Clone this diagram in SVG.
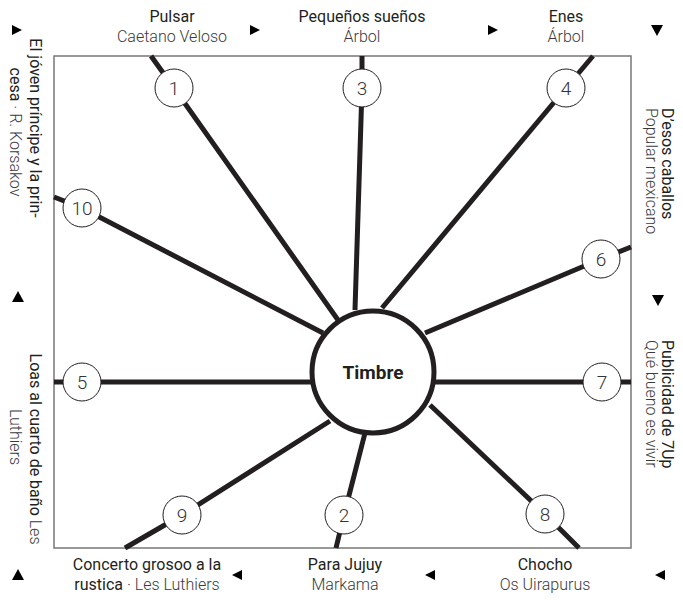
<svg xmlns="http://www.w3.org/2000/svg" width="683" height="605" viewBox="0 0 683 605">
<style>
.t{font-family:Roboto,"Liberation Sans",sans-serif;font-size:16px;fill:#231f20}
.s{font-family:Roboto,"Liberation Sans",sans-serif;font-size:16px;font-weight:300;fill:#3a3a3a}
.n{font-family:Roboto,"Liberation Sans",sans-serif;font-size:19px;font-weight:300;fill:#333;text-anchor:middle}
.c{text-anchor:middle}
.sp{fill:none;stroke:#231f20;stroke-width:5}
.nd{fill:#fff;stroke:#231f20;stroke-width:1}
.ar{fill:#000}
</style>
<rect x="54" y="56" width="577" height="492" fill="#fff" stroke="#777" stroke-width="1.5"/>
<g id="connectors">
<polyline class="sp" points="151,56 174,88 338,320"/>
<polyline class="sp" points="362,56 362,88 355,310"/>
<polyline class="sp" points="593,56 566,88 382,308"/>
<polyline class="sp" points="54,197 82,208 323,333"/>
<polyline class="sp" points="631,247 601,259 425,333"/>
<polyline class="sp" points="54,382 82,382 312,382"/>
<polyline class="sp" points="631,382 603,382 435,382"/>
<polyline class="sp" points="125,548 182,515 330,421"/>
<polyline class="sp" points="336,548 344,515 365,433"/>
<polyline class="sp" points="579,548 545,514 430,405"/>
</g>
<g id="timbre">
<circle cx="373" cy="372" r="61" fill="#fff" stroke="#231f20" stroke-width="5"/>
<text x="373" y="379" class="c" style="font-family:Roboto,'Liberation Sans',sans-serif;font-size:19px;font-weight:bold;fill:#231f20">Timbre</text>
</g>
<g id="n1"><circle class="nd" cx="174" cy="88" r="19"/><text class="n" x="174" y="95">1</text></g>
<g id="n3"><circle class="nd" cx="362" cy="88" r="19"/><text class="n" x="362" y="95">3</text></g>
<g id="n4"><circle class="nd" cx="566" cy="88" r="19"/><text class="n" x="566" y="95">4</text></g>
<g id="n10"><circle class="nd" cx="82" cy="208" r="19"/><text class="n" x="82" y="215">10</text></g>
<g id="n6"><circle class="nd" cx="601" cy="259" r="19"/><text class="n" x="601" y="266">6</text></g>
<g id="n5"><circle class="nd" cx="82" cy="382" r="19"/><text class="n" x="82" y="389">5</text></g>
<g id="n7"><circle class="nd" cx="602" cy="382" r="19"/><text class="n" x="602" y="389">7</text></g>
<g id="n9"><circle class="nd" cx="182" cy="515" r="19"/><text class="n" x="182" y="522">9</text></g>
<g id="n2"><circle class="nd" cx="344" cy="515" r="19"/><text class="n" x="344" y="522">2</text></g>
<g id="n8"><circle class="nd" cx="545" cy="514" r="19"/><text class="n" x="545" y="521">8</text></g>
<g id="labels">
<text class="t c" x="172" y="22">Pulsar</text>
<text class="s c" x="172" y="42">Caetano Veloso</text>
<text class="t c" x="362" y="22">Pequeños sueños</text>
<text class="s c" x="362" y="42">Árbol</text>
<text class="t c" x="566" y="22">Enes</text>
<text class="s c" x="566" y="42">Árbol</text>
<text class="t c" x="147" y="570">Concerto grosoo a la</text>
<text class="c" x="147" y="590"><tspan class="t">rustica</tspan><tspan class="s"> · Les Luthiers</tspan></text>
<text class="t c" x="345" y="570">Para Jujuy</text>
<text class="s c" x="345" y="590">Markama</text>
<text class="t c" x="545" y="570">Chocho</text>
<text class="s c" x="545" y="590">Os Uirapurus</text>
<text class="t c" transform="translate(30,128) rotate(90)">El jóven príncipe y la prin-</text>
<text class="c" transform="translate(10,132) rotate(90)"><tspan class="t">cesa</tspan><tspan class="s"> · R. Korsakov</tspan></text>
<text class="c" transform="translate(30,449) rotate(90)"><tspan class="t">Loas al cuarto de baño</tspan><tspan class="s"> Les</tspan></text>
<text class="s c" transform="translate(10,437) rotate(90)">Luthiers</text>
<text class="t" transform="translate(662,108) rotate(90)">D’esos caballos</text>
<text class="s" transform="translate(646,108) rotate(90)">Popular mexicano</text>
<text class="t" transform="translate(662,340) rotate(90)">Publicidad de 7Up</text>
<text class="s" transform="translate(646,340) rotate(90)">Qué bueno es vivir</text>
</g>
<g id="arrows">
<polygon class="ar" points="12,25 22,30 12,35"/>
<polygon class="ar" points="250,25 260,30 250,35"/>
<polygon class="ar" points="488,25 498,30 488,35"/>
<polygon class="ar" points="651,25 663,25 657,36"/>
<polygon class="ar" points="652,295 664,295 658,306"/>
<polygon class="ar" points="665,570 665,580 655,575"/>
<polygon class="ar" points="435,570 435,580 425,575"/>
<polygon class="ar" points="242,570 242,580 232,575"/>
<polygon class="ar" points="12,580 24,580 18,569"/>
<polygon class="ar" points="12,302 24,302 18,291"/>
</g>
</svg>
